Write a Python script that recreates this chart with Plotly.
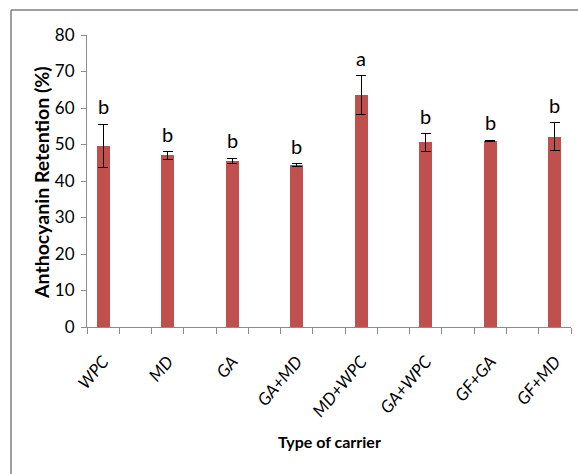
import plotly.graph_objects as go

# ---- data ----
carriers = ["WPC", "MD", "GA", "GA+MD", "MD+WPC", "GA+WPC", "GF+GA", "GF+MD"]
retention = [49.6, 47.0, 45.5, 44.4, 63.5, 50.6, 50.9, 52.1]
errors = [6.0, 1.0, 0.7, 0.3, 5.4, 2.4, 0.2, 3.8]
letters = ["b", "b", "b", "b", "a", "b", "b", "b"]
y_ticks = [0, 10, 20, 30, 40, 50, 60, 70, 80]

# layout geometry (pixels)
W, H = 578, 474
L, R, T, B = 87, 7, 35, 147
pw, ph = W - L - R, H - T - B

FONT = "Lato, Open Sans, sans-serif"
BAR = "#C0504D"
AX = "#8c8c8c"

# bars sit on every other category slot (Excel-style gaps)
nslots = 2 * len(carriers) - 1
xpos = [2 * i for i in range(len(carriers))]
bounds = [k - 0.5 for k in range(nslots + 1)]

fig = go.Figure()
fig.add_trace(go.Bar(
    x=xpos, y=retention,
    width=0.40,
    marker=dict(color=BAR, line=dict(width=0)),
    error_y=dict(type="data", array=errors, visible=True,
                 color="black", thickness=1, width=5),
    showlegend=False, hoverinfo="skip",
))
# invisible trace carrying the boundary-tick axis
fig.add_trace(go.Scatter(x=[bounds[0]], y=[0], xaxis="x2", mode="markers",
                         marker=dict(opacity=0), showlegend=False,
                         hoverinfo="skip"))

for xp, v, e, lt in zip(xpos, retention, errors, letters):
    fig.add_annotation(x=xp, y=v + e, text=lt, showarrow=False,
                       xref="x", yref="y", yanchor="middle", yshift=18,
                       font=dict(family=FONT, size=20, color="black"))

# axis titles as annotations for exact placement
fig.add_annotation(text="<b>Anthocyanin Retention (%)</b>", showarrow=False,
                   xref="paper", yref="paper",
                   x=(41 - L) / pw, y=(H - B - 183) / ph,
                   xanchor="center", yanchor="middle", textangle=-90,
                   font=dict(family=FONT, size=19.5, color="black"))
fig.add_annotation(text="<b>Type of carrier</b>", showarrow=False,
                   xref="paper", yref="paper",
                   x=0.5, y=-(441 - (H - B)) / ph,
                   xanchor="center", yanchor="middle",
                   font=dict(family=FONT, size=16, color="black"))

# outer frame (top and left edges visible)
fx0 = (11 - L) / pw
fy0 = (H - B - 10) / ph
fig.add_shape(type="line", xref="paper", yref="paper",
              x0=fx0, x1=(W - L + 5) / pw, y0=fy0, y1=fy0,
              line=dict(color="#7f7f7f", width=1.5))
fig.add_shape(type="line", xref="paper", yref="paper",
              x0=fx0, x1=fx0, y0=fy0, y1=-(B + 5) / ph,
              line=dict(color="#7f7f7f", width=1.5))

fig.update_layout(
    width=W, height=H,
    margin=dict(l=L, r=R, t=T, b=B, autoexpand=False),
    paper_bgcolor="white", plot_bgcolor="white",
    font=dict(family=FONT, color="black"),
    bargap=0,
    xaxis=dict(
        range=[bounds[0], bounds[-1]],
        tickvals=xpos, ticktext=["<i>%s</i>" % c for c in carriers],
        tickangle=-50, ticks="", showgrid=False, zeroline=False,
        showline=True, linecolor=AX, linewidth=1,
        ticklabelstandoff=17,
        tickfont=dict(family=FONT, size=17, color="black"),
    ),
    xaxis2=dict(
        range=[bounds[0], bounds[-1]], overlaying="x", anchor="y",
        side="bottom", tickvals=bounds, showticklabels=False,
        ticks="outside", ticklen=6, tickcolor=AX, tickwidth=1,
        showgrid=False, zeroline=False, showline=False,
    ),
    yaxis=dict(
        range=[0, 80], tickvals=y_ticks,
        ticks="outside", ticklen=5, tickcolor=AX,
        showgrid=False, zeroline=False,
        showline=True, linecolor=AX, linewidth=1,
        ticklabelstandoff=3,
        tickfont=dict(family=FONT, size=17, color="black"),
    ),
)

fig.write_html("out.html", config={"displayModeBar": False},
               post_script="document.body.style.margin='0';")
